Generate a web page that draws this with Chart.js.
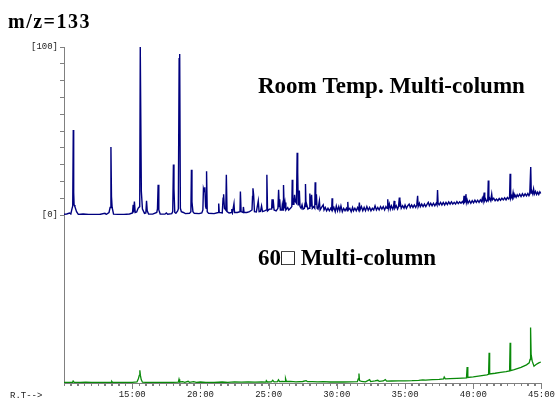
<!DOCTYPE html>
<html>
<head>
<meta charset="utf-8">
<script src="https://cdn.jsdelivr.net/npm/chart.js@4/dist/chart.umd.min.js"></script>
<style>
  html, body { margin: 0; padding: 0; background: #fff; }
  #wrap { width: 558px; height: 403px; }
</style>
</head>
<body>
<div id="wrap"><canvas id="msChart" width="558" height="403"></canvas></div>
<script>
// retention time (min) / relative intensity
const roomTempTrace = [
  [10.00, 0.4], [10.20, 0.6], [10.40, 1.2], [10.50, 0.6], [10.58, 3.5], [10.64, 5.4], [10.68, 50.6], [10.71, 13.4], [10.74, 6], [10.80, 5], [10.92, 2], [11.05, 0.4],
  [11.40, 0.6], [11.80, 0.3], [12.20, 0.4], [12.60, 0.3], [13.00, 1.0], [13.10, 0.4], [13.30, 1.5], [13.38, 4.5], [13.44, 40.5], [13.48, 11], [13.53, 4.5], [13.63, 0.5],
  [14.00, 0.4], [14.40, 0.3], [14.80, 0.6], [15.02, 1.2], [15.07, 6], [15.10, 1.5], [15.16, 8], [15.22, 1.5], [15.33, 1.8], [15.43, 4], [15.55, 5], [15.59, 100], [15.63, 100], [15.67, 14], [15.75, 3.6], [15.90, 1],
  [16.00, 1.2], [16.05, 8.4], [16.10, 2.5], [16.20, 0.6], [16.50, 0.5], [16.80, 1.5], [16.85, 3.6], [16.90, 18], [16.95, 3], [17.05, 0.6], [17.40, 0.5], [17.50, 1.2], [17.60, 0.5], [17.90, 0.8],
  [17.97, 2], [18.02, 30], [18.06, 15.6], [18.12, 1.5], [18.20, 1], [18.33, 2.5], [18.38, 3.6], [18.44, 93], [18.48, 95.8], [18.53, 4], [18.60, 2], [18.75, 1.5], [18.90, 0.8], [19.20, 1],
  [19.30, 2], [19.34, 27], [19.38, 7.8], [19.45, 2], [19.55, 1], [19.90, 0.8], [20.10, 1.2], [20.18, 3], [20.22, 15.6], [20.27, 14], [20.32, 16.5], [20.38, 5], [20.42, 4], [20.45, 26], [20.50, 2], [20.60, 1],
  [21.00, 0.8], [21.30, 1.5], [21.34, 6.8], [21.38, 1.5], [21.60, 1.2], [21.66, 10], [21.70, 12.4], [21.76, 4], [21.86, 3], [21.90, 24], [21.95, 2], [22.10, 1.2], [22.28, 1.5], [22.30, 3.6], [22.35, 1.5], [22.46, 6.8], [22.50, 1.5],
  [22.70, 1.5], [22.90, 2], [22.93, 14], [22.98, 2], [23.12, 1.5], [23.15, 4.8], [23.20, 1.5], [23.40, 1.5], [23.60, 2], [23.78, 3], [23.82, 11], [23.85, 15.9], [23.90, 12], [23.96, 2], [24.10, 1.8], [24.24, 8.4], [24.30, 2],
  [24.40, 2.2], [24.48, 5.4], [24.55, 2], [24.70, 2.5], [24.84, 3], [24.87, 24], [24.92, 2.5], [25.05, 3.5], [25.22, 3.5], [25.25, 9.4], [25.30, 4], [25.33, 9.4], [25.40, 3], [25.55, 2.5], [25.68, 4], [25.73, 15], [25.78, 5], [25.81, 9.4], [25.86, 3],
  [25.96, 3], [26.00, 6], [26.06, 3], [26.09, 17.9], [26.14, 4], [26.20, 7.4], [26.26, 3], [26.40, 4.4], [26.47, 3], [26.60, 4], [26.70, 5], [26.73, 21], [26.77, 6], [26.80, 10], [26.85, 6], [26.90, 12], [26.96, 8], [27.04, 7], [27.09, 37], [27.13, 25.5], [27.17, 6],
  [27.22, 8], [27.25, 14.5], [27.30, 5], [27.38, 4], [27.45, 6], [27.52, 3.5], [27.62, 4], [27.67, 7], [27.70, 18.5], [27.74, 5], [27.80, 6], [27.88, 3.5], [27.96, 4], [28.02, 12.8], [28.08, 5], [28.15, 12], [28.20, 4], [28.30, 5], [28.38, 4], [28.41, 19.5], [28.45, 6], [28.50, 12.4], [28.55, 4],
  [28.62, 3.5], [28.72, 8.4], [28.77, 3], [28.88, 4.5], [29.00, 6], [29.06, 3], [29.15, 4.5], [29.25, 2.5], [29.35, 4], [29.45, 2.5], [29.55, 4], [29.62, 3], [29.65, 10], [29.69, 3], [29.78, 4.5], [29.88, 2], [29.96, 5.4], [30.05, 2.5], [30.14, 5], [30.22, 2.5], [30.30, 5.4], [30.40, 2], [30.50, 4], [30.60, 2.5], [30.70, 4],
  [30.77, 2.5], [30.80, 7.8], [30.84, 3], [30.95, 4], [31.05, 2], [31.15, 4.5], [31.22, 2.5], [31.32, 4], [31.42, 2.5], [31.52, 4.5], [31.60, 3], [31.65, 7.4], [31.70, 3], [31.80, 5], [31.90, 2.5], [32.00, 4.5], [32.10, 2.5], [32.20, 5], [32.30, 2.8], [32.40, 4.5], [32.50, 2.5], [32.60, 4], [32.70, 3], [32.80, 5.5], [32.90, 3], [33.00, 4.5], [33.10, 3], [33.20, 5], [33.30, 3.5], [33.40, 5], [33.50, 3], [33.60, 5], [33.68, 4], [33.73, 9.4], [33.78, 4], [33.85, 6.5], [33.92, 3.5],
  [34.00, 5.5], [34.10, 3.5], [34.16, 5], [34.20, 8.4], [34.25, 4], [34.35, 5.5], [34.45, 3.5], [34.52, 5], [34.58, 10.4], [34.62, 5], [34.66, 7], [34.72, 4], [34.82, 5.5], [34.92, 4], [35.00, 6], [35.10, 4], [35.20, 5.5], [35.30, 6.5], [35.38, 4.5], [35.48, 6], [35.58, 4.5], [35.68, 6], [35.78, 4.5], [35.86, 6], [35.92, 11.4], [35.96, 5],
  [36.05, 7], [36.12, 5], [36.22, 6.5], [36.32, 5], [36.42, 6.5], [36.52, 5], [36.62, 6.5], [36.70, 7.5], [36.78, 5.5], [36.88, 7], [36.98, 5.5], [37.08, 7], [37.18, 5.5], [37.28, 7], [37.34, 6], [37.38, 14.9], [37.42, 7],
  [37.50, 6], [37.60, 7.5], [37.70, 6], [37.80, 7.5], [37.90, 6], [38.00, 7.5], [38.10, 6.2], [38.20, 7.8], [38.30, 6.5], [38.40, 7.8], [38.50, 6.5], [38.60, 7.5], [38.70, 6.5], [38.80, 8], [38.90, 6.8], [39.00, 7.8], [39.10, 7], [39.20, 8], [39.28, 7], [39.32, 11.4], [39.36, 7.5], [39.42, 8], [39.46, 12.4], [39.50, 7.5], [39.55, 9], [39.62, 7],
  [39.72, 8.5], [39.82, 7], [39.92, 8.5], [40.02, 7.2], [40.12, 8.8], [40.22, 7.5], [40.32, 8.8], [40.42, 7.5], [40.52, 9], [40.60, 8], [40.66, 10], [40.72, 8], [40.80, 13.4], [40.84, 8.5], [40.90, 9.5], [40.98, 8], [41.06, 9], [41.10, 20.5], [41.14, 9], [41.20, 10], [41.28, 8.5], [41.35, 12.4], [41.40, 9],
  [41.50, 10], [41.60, 8.5], [41.70, 9.5], [41.80, 8.5], [41.90, 9.8], [42.00, 8.8], [42.10, 10], [42.20, 9], [42.30, 10.2], [42.40, 9], [42.50, 10.4], [42.60, 9.5], [42.66, 10.5], [42.70, 24.5], [42.74, 10], [42.80, 11.5], [42.86, 10], [42.92, 13.4], [42.98, 10.5],
  [43.06, 11.8], [43.14, 10.5], [43.22, 12], [43.30, 11], [43.40, 12.4], [43.50, 11], [43.60, 12.6], [43.70, 11.2], [43.80, 12.6], [43.90, 11.4], [44.00, 12.8], [44.08, 11.5], [44.14, 12.5], [44.21, 28.5], [44.25, 13], [44.30, 14], [44.36, 12.5], [44.42, 15.5], [44.48, 12.5], [44.56, 14], [44.64, 12.2], [44.72, 13.6], [44.80, 12.2], [44.88, 13.8], [44.95, 12.8]
];

const sixtyDegTrace = [
  [10.00, 0.3], [10.40, 0.4], [10.62, 0.3], [10.67, 1.2], [10.75, 0.4], [11.20, 0.3], [11.60, 0.5], [12.00, 0.3], [12.50, 0.4], [13.00, 0.3], [13.45, 0.4], [13.50, 1.0], [13.56, 0.4],
  [14.00, 0.3], [14.50, 0.4], [15.00, 0.4], [15.35, 0.6], [15.45, 2.5], [15.52, 4.5], [15.56, 7.6], [15.60, 4.5], [15.66, 2], [15.75, 0.5], [16.00, 0.4], [16.50, 0.3], [17.00, 0.4], [17.50, 0.3],
  [18.00, 0.4], [18.38, 0.5], [18.43, 2.2], [18.48, 0.6], [18.70, 0.8], [18.85, 0.4], [19.10, 1.0], [19.20, 0.4], [19.50, 0.8], [19.70, 0.4], [20.00, 0.6], [20.40, 0.3], [21.00, 0.4], [21.60, 0.6],
  [22.00, 0.4], [22.50, 0.7], [23.00, 0.5], [23.50, 0.7], [24.00, 0.5], [24.50, 0.7], [24.80, 0.5], [24.83, 1.4], [24.90, 0.6], [25.20, 0.7], [25.30, 1.6], [25.40, 0.7], [25.65, 0.8], [25.72, 1.9], [25.80, 0.8],
  [26.00, 1.0], [26.20, 0.8], [26.24, 2.6], [26.30, 0.9], [26.60, 1.0], [27.00, 0.7], [27.50, 0.9], [27.75, 1.4], [27.85, 0.8], [28.20, 0.8], [28.60, 0.7], [29.00, 0.8], [29.50, 0.6], [30.00, 0.7], [30.50, 0.6],
  [31.00, 0.7], [31.50, 0.8], [31.57, 2.5], [31.62, 5.6], [31.66, 1.5], [31.80, 0.9], [32.10, 0.7], [32.40, 2], [32.48, 0.8], [32.80, 1.2], [33.00, 1.6], [33.10, 1], [33.40, 1.2], [33.55, 2], [33.65, 1.1],
  [34.00, 1.2], [34.50, 1.3], [35.00, 1.3], [35.50, 1.4], [36.00, 1.6], [36.30, 1.8], [36.50, 1.7], [37.00, 2], [37.50, 2.2], [37.82, 2.4], [37.87, 3.6], [37.95, 2.5], [38.30, 2.6], [38.80, 2.8],
  [39.20, 2.9], [39.50, 3.0], [39.55, 9.5], [39.60, 3.3], [40.00, 3.6], [40.50, 4.2], [41.00, 4.8], [41.12, 5.2], [41.16, 18], [41.20, 5.4], [41.60, 5.8], [42.00, 6.3], [42.40, 6.8], [42.66, 7.2], [42.70, 24], [42.74, 7.4],
  [43.00, 8], [43.50, 9.3], [43.90, 10.8], [44.10, 12], [44.16, 14], [44.20, 33], [44.24, 17], [44.32, 13], [44.45, 10], [44.60, 11], [44.80, 12], [44.95, 12.5]
];

const rtRange = [10, 45];        // minutes
const labelledMinutes = [15, 20, 25, 30, 35, 40, 45];
const intensityLabels = { 0: "[0]", 100: "[100]" };

const AXIS_GREY = "#808080";
const monoFont = { family: "'Liberation Mono', 'DejaVu Sans Mono', monospace", size: 9 };

const toXY = rows => rows.map(([t, v]) => ({ x: t, y: v }));

// tick marks under the RT axis (longer on the labelled minutes) + text overlays
const annotate = {
  id: "annotate",
  afterDraw(chart) {
    const ctx = chart.ctx;
    const xs = chart.scales.x;
    ctx.save();
    ctx.strokeStyle = AXIS_GREY;
    ctx.lineWidth = 1;
    xs.ticks.forEach(t => {
      if (t.value <= rtRange[0]) return;
      const px = Math.round(xs.getPixelForValue(t.value)) + 0.5;
      const len = labelledMinutes.includes(t.value) ? 6 : 3;
      ctx.beginPath();
      ctx.moveTo(px, xs.top);
      ctx.lineTo(px, xs.top + len);
      ctx.stroke();
    });

    ctx.fillStyle = "#000";
    ctx.textAlign = "left";
    ctx.textBaseline = "alphabetic";
    ctx.font = "bold 20px 'Liberation Serif', 'Times New Roman', serif";
    ctx.letterSpacing = "1.5px";
    ctx.fillText("m/z=133", 8, 28);
    ctx.letterSpacing = "0px";

    ctx.font = "bold 23px 'Liberation Serif', 'Times New Roman', serif";
    ctx.fillText("Room Temp. Multi-column", 258, 93);
    ctx.fillText("60□ Multi-column", 258, 265);

    ctx.font = "9px " + monoFont.family;
    ctx.fillStyle = "#222";
    ctx.fillText("R.T-->", 10, 398);
    ctx.restore();
  }
};

new Chart(document.getElementById("msChart"), {
  type: "line",
  data: {
    datasets: [
      {
        label: "Room Temp. Multi-column",
        data: toXY(roomTempTrace),
        yAxisID: "yTop",
        borderColor: "#00007f",
        borderWidth: 1.4,
        pointRadius: 0,
        tension: 0
      },
      {
        label: "60□ Multi-column",
        data: toXY(sixtyDegTrace),
        yAxisID: "yBot",
        borderColor: "#0a8a0a",
        borderWidth: 1.3,
        pointRadius: 0,
        tension: 0
      }
    ]
  },
  plugins: [annotate],
  options: {
    responsive: false,
    animation: false,
    layout: { padding: { top: 47, right: 0, left: 0, bottom: 0 } },
    plugins: {
      legend: { display: false },
      tooltip: { enabled: false }
    },
    scales: {
      x: {
        type: "linear",
        min: rtRange[0],
        max: rtRange[1],
        afterFit: s => { s.height = 20; },
        border: { display: true, color: AXIS_GREY, width: 1 },
        grid: { display: true, drawOnChartArea: false, color: AXIS_GREY, tickLength: 3 },
        ticks: {
          stepSize: 0.5,
          autoSkip: false,
          maxRotation: 0,
          padding: 3,
          color: "#222",
          font: monoFont,
          callback: v => labelledMinutes.includes(v) ? v + ":00" : ""
        }
      },
      yBot: {
        type: "linear",
        position: "left",
        stack: "rt",
        stackWeight: 1,
        min: 0,
        max: 100,
        afterFit: s => { s.width = 64; },
        border: { display: true, color: AXIS_GREY, width: 1 },
        grid: { display: false },
        ticks: { display: false }
      },
      yTop: {
        type: "linear",
        position: "left",
        stack: "rt",
        stackWeight: 1,
        min: 0,
        max: 100,
        afterFit: s => { s.width = 64; },
        border: { display: true, color: AXIS_GREY, width: 1 },
        grid: { display: true, drawOnChartArea: false, color: AXIS_GREY, tickLength: 4 },
        ticks: {
          stepSize: 10,
          autoSkip: false,
          padding: 2,
          color: "#222",
          font: monoFont,
          callback: v => intensityLabels[v] || ""
        }
      }
    }
  }
});
</script>
</body>
</html>
